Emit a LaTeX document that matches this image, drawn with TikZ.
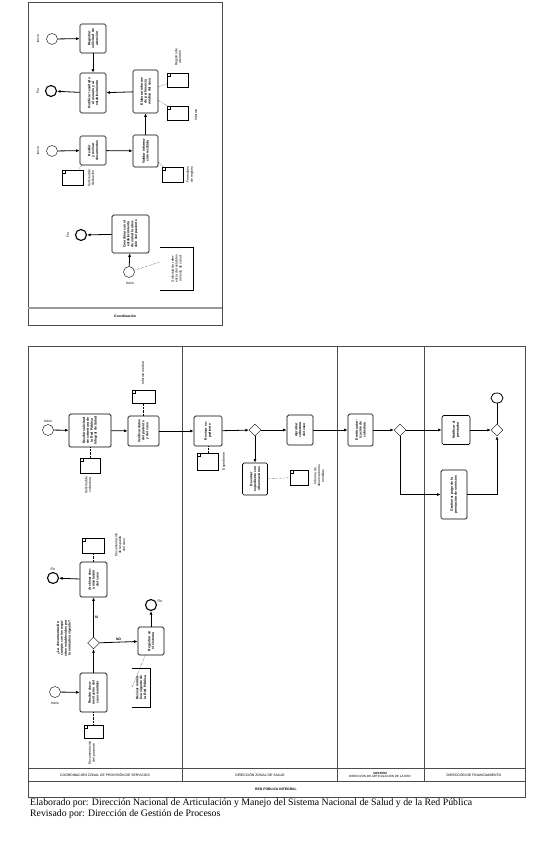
\documentclass[tikz,border=0pt]{standalone}
\usepackage{fontspec}
\setmainfont{Liberation Serif}
\newfontfamily\diagfont{Liberation Sans}
\usetikzlibrary{arrows.meta, positioning, shapes.geometric, calc}

\begin{document}
\begin{tikzpicture}[x=1pt, y=-1pt,
    every node/.style={font=\diagfont\fontsize{3.4}{3.9}\selectfont, inner sep=1pt},
    task/.style={draw, rounded corners=1.5pt, line width=0.7pt, fill=white, align=center, rotate=90,
      font=\diagfont\bfseries\fontsize{3.4}{3.9}\selectfont},
    dataobj/.style={draw, thin, fill=white, inner sep=0pt,
      path picture={\draw[thin] ($(path picture bounding box.north west)+(0,-3pt)$) -- ++(3pt,0) -- ++(0,3pt);}},
    gw/.style={draw, diamond, minimum size=12pt, inner sep=0pt, fill=white},
    startev/.style={draw, circle, minimum size=11pt, inner sep=0pt, fill=white},
    endev/.style={draw, circle, minimum size=11pt, inner sep=0pt, line width=1.1pt, fill=white},
    tag/.style={rotate=90, align=center},
    flow/.style={line width=0.8pt, -{Latex[length=3.5pt, width=3pt]}},
    assoc/.style={densely dotted, thin},
    lane/.style={draw=black!70, line width=0.5pt}
  ]
  \useasboundingbox (0,0) rectangle (544,849);

  % ---- upper sheet ----
  \draw[lane] (28,2) rectangle (222,325);
  \draw[lane, line width=1.2pt, draw=black!40] (28,308) -- (222,308);
  \node[font=\diagfont\bfseries\fontsize{3.4}{3.9}\selectfont] (laneTop) at (125,316) {Coordinación};

  \node[startev] (s1) at (52,39) {};
  \node[tag] at (38,39) {Inicio};
  \node[task, minimum width=29pt, minimum height=26pt, text width=25pt] (tA) at (93,38.5) {Registrar solicitud de atención};
  \node[task, minimum width=40pt, minimum height=26pt, text width=36pt] (tB) at (93,93) {Notificar resultado al usuario y al establecimiento};
  \node[endev] (e1) at (51,91) {};
  \node[tag] at (38,91) {Fin};
  \node[task, minimum width=43pt, minimum height=25pt, text width=39pt] (tC) at (145.5,91.5) {Elaborar informe de pertinencia médica del caso};
  \node[dataobj, minimum width=21pt, minimum height=14pt] (d1) at (177.5,80) {};
  \node[tag] at (178,57) {Registro de\\atención};
  \node[dataobj, minimum width=21pt, minimum height=14pt] (d2) at (177.5,113) {};
  \node[tag] at (196,115) {Informe};

  \node[startev] (s2) at (52,151) {};
  \node[tag] at (38,151) {Inicio};
  \node[task, minimum width=29pt, minimum height=26pt, text width=25pt] (tD) at (93,150.5) {Recibir y revisar documentos};
  \node[dataobj, minimum width=21pt, minimum height=15pt] (d3) at (72.5,177.5) {};
  \node[tag] at (91,178) {Solicitud de\\derivación};
  \node[task, minimum width=32pt, minimum height=25pt, text width=28pt] (tE) at (145.5,151) {Validar información recibida};
  \node[dataobj, minimum width=21pt, minimum height=15pt] (d4) at (172.5,174.5) {};
  \node[tag] at (190,174.5) {Formulario\\de registro};

  \node[task, minimum width=38pt, minimum height=37pt, text width=34pt] (tF) at (130.5,234) {Coordinar con el establecimiento de salud la atención del paciente};
  \node[endev] (e3) at (81,235) {};
  \node[tag] at (68,235) {Fin};
  \node[startev] (s3) at (129,272) {};
  \node at (130,283) {Inicio};
  \node[tag, text width=39pt] (ann) at (176.5,268.5) {Solicitud de referencia del establecimiento de salud};
  \draw[thin] (160,247) -- (193,247) -- (193,290) -- (160,290);

  \draw[flow] (s1) -- (tA);
  \draw[flow] (tA) -- (tB);
  \draw[flow] (tB) -- (e1);
  \draw[flow] (tC) -- (tB);
  \draw[flow] (s2) -- (tD);
  \draw[flow] (tD) -- (tE);
  \draw[flow] (tE) -- (tC);
  \draw[flow] (tF) -- (e3);
  \draw[flow] (s3) -- (tF);
  \draw[assoc] (tC) -- (d1);
  \draw[assoc] (tC) -- (d2);
  \draw[assoc] (tD) -- (d3);
  \draw[assoc] (tE) -- (d4);
  \draw[assoc] (s3) -- (160,262);

  % ---- lower sheet (pool) ----
  \draw[lane] (28,346) rectangle (525,797);
  \draw[lane] (28,768) -- (525,768);
  \draw[lane] (28,781) -- (525,781);
  \foreach \lx in {182,337,424} {
    \draw[lane] (\lx,346) -- (\lx,781);
  }
  \node (lane1) at (105,775) {COORDINACIÓN ZONAL DE PROVISIÓN DE SERVICIOS};
  \node (lane2) at (260,775) {DIRECCIÓN ZONAL DE SALUD};
  \node[align=center, font=\diagfont\fontsize{3}{3.4}\selectfont] (lane3) at (380,774.5) {\textbf{GESTIÓN}\\DIRECCIÓN DE ARTICULACIÓN DE LA RED};
  \node (lane4) at (474,775) {DIRECCIÓN DE FINANCIAMIENTO};
  \node (pool) at (276,789) {\textbf{RED PÚBLICA INTEGRAL}};

  % main flow
  \node[startev] (sA) at (48,430) {};
  \node at (48,421) {Inicio};
  \node[task, minimum width=33pt, minimum height=42pt, text width=29pt] (t1) at (90,430.5) {Recibir solicitud de cobertura de la Red Pública Integral de Salud};
  \node[dataobj, minimum width=20pt, minimum height=15pt] (dt1) at (90,465.5) {};
  \node[tag] at (88,485) {Solicitud de\\cobertura};
  \node[task, minimum width=30pt, minimum height=31pt, text width=26pt] (t2) at (143.5,431) {Verificar datos del paciente y del caso};
  \node[dataobj, minimum width=23pt, minimum height=13pt] (dt2) at (143.5,396.5) {};
  \node[tag] at (143,373) {Informe médico};
  \node[task, minimum width=30pt, minimum height=28pt, text width=26pt] (t3) at (208,431) {Revisar expediente};
  \node[dataobj, minimum width=21pt, minimum height=17pt] (dt3) at (208,461.5) {};
  \node[tag] at (224,461.5) {Expediente};
  \node[gw] (g1) at (255,430) {};
  \node[task, minimum width=32pt, minimum height=25pt, text width=28pt] (t4) at (255,479) {Devolver expediente con observaciones};
  \node[dataobj, minimum width=18pt, minimum height=15pt] (dt4) at (299,477.5) {};
  \node[tag] at (319,476) {Informe de\\observaciones\\emitidas};
  \node[task, minimum width=30pt, minimum height=26pt, text width=26pt] (t5) at (300,430) {Aprobar cobertura del caso};
  \node[task, minimum width=32pt, minimum height=25pt, text width=28pt] (t6) at (360.5,430) {Emitir autorización de cobertura};
  \node[gw] (g2) at (400,430) {};
  \node[task, minimum width=29pt, minimum height=28pt, text width=25pt] (t7) at (456,430) {Notificar al prestador};
  \node[task, minimum width=49pt, minimum height=26pt, text width=45pt] (t8) at (454,494.5) {Gestionar pago de la prestación de servicios};
  \node[gw] (g3) at (497,430) {};
  \node[draw, ellipse, minimum width=12pt, minimum height=10pt, inner sep=0pt, line width=0.8pt] (eEnd) at (497,398) {};

  \draw[flow] (sA) -- (t1);
  \draw[flow] (t1) -- (t2);
  \draw[flow] (t2) -- (t3);
  \draw[flow] (t3) -- (g1);
  \draw[flow] (g1) -- (t4);
  \draw[flow] (g1) -- (t5);
  \draw[flow] (t5) -- (t6);
  \draw[flow] (t6) -- (g2);
  \draw[flow] (g2) -- (t7);
  \draw[flow] (g2) |- (t8);
  \draw[flow] (t7) -- (g3);
  \draw[flow] (t8) -| (g3);
  \draw[line width=0.8pt] (g3) -- (eEnd);
  \draw[assoc] (t1) -- (dt1);
  \draw[assoc] (t2) -- (dt2);
  \draw[assoc] (t3) -- (dt3);
  \draw[assoc] (t4) -- (dt4);

  % second flow
  \node[startev] (sB) at (55,692) {};
  \node at (55,703) {Inicio};
  \node[task, minimum width=39pt, minimum height=27pt, text width=35pt] (t9) at (93.5,692.5) {Recibir documentación del caso remitido};
  \node[dataobj, minimum width=19pt, minimum height=13pt] (dt9) at (93.5,731.5) {};
  \node[tag] at (92,753) {Documentación\\del paciente};
  \node[gw] (g4) at (93.5,643) {};
  \node[tag, text width=48pt, font=\diagfont\bfseries\fontsize{3.4}{3.9}\selectfont] (q4) at (64,638) {¿La documentación cumple con los requisitos establecidos por la normativa vigente?};
  \node[task, minimum width=35pt, minimum height=27pt, text width=31pt] (t10) at (93.5,579.5) {Archivar documentación del caso};
  \node[endev] (eC) at (53,578) {};
  \node at (53,569) {Fin};
  \node[dataobj, minimum width=22pt, minimum height=15pt] (dt10) at (93.5,545.5) {};
  \node[tag] at (120,545) {Documentación\\de respaldo\\del caso};
  \node[task, minimum width=28pt, minimum height=26pt, text width=24pt] (t11) at (151,641) {Registrar en el sistema};
  \node[endev] (eD) at (151,605) {};
  \node at (160,601) {Fin};
  \node[tag, text width=35pt, font=\diagfont\bfseries\fontsize{3.4}{3.9}\selectfont] (ann2) at (141,687.5) {Revisar normativa vigente de la Red Pública};
  \draw[thin] (132,668) -- (150,668) -- (150,707) -- (132,707);

  \draw[flow] (sB) -- (t9);
  \draw[flow] (t9) -- (g4);
  \draw[flow] (g4) -- node[right, font=\diagfont\fontsize{3.4}{3.4}\selectfont\bfseries] {SI} (t10);
  \draw[flow] (g4) -- node[above, font=\diagfont\fontsize{3.4}{3.4}\selectfont\bfseries] {NO} (t11);
  \draw[flow] (t10) -- (eC);
  \draw[flow] (t11) -- (eD);
  \draw[assoc] (t9) -- (dt9);
  \draw[assoc] (t10) -- (dt10);
  \draw[assoc] (t11) -- (132,687.5);

  % footer
  \node[anchor=west, font=\rmfamily\fontsize{9.8}{11}\selectfont, inner sep=0pt] (elab) at (30,803) {Elaborado por: Dirección Nacional de Articulación y Manejo del Sistema Nacional de Salud y de la Red Pública};
  \node[anchor=west, font=\rmfamily\fontsize{9.8}{11}\selectfont, inner sep=0pt] (rev) at (30,814) {Revisado por: Dirección de Gestión de Procesos};
\end{tikzpicture}
\end{document}
